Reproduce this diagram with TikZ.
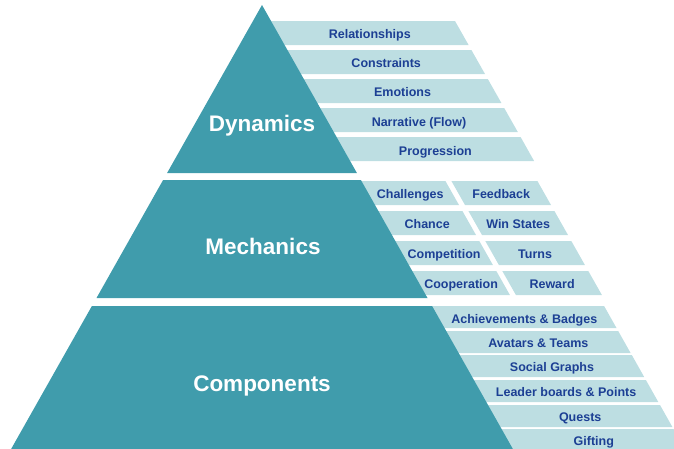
\documentclass[tikz,border=0pt]{standalone}
\usepackage{fontspec}
\setmainfont{Liberation Sans}
\usepackage{tikz}
\usetikzlibrary{positioning}

\definecolor{teal}{HTML}{409CAC}
\definecolor{pale}{HTML}{BDDEE2}
\definecolor{navy}{HTML}{1C3F94}

\begin{document}
\begin{tikzpicture}[x=1pt,y=-1pt,
        layer/.style={fill=teal},
        strip/.style={fill=pale},
        big/.style={text=white, text height=16pt, text depth=0pt, font=\fontsize{22.5}{26}\selectfont\bfseries},
        item/.style={text=navy, text height=9pt, text depth=0pt, font=\fontsize{12.5}{14}\selectfont\bfseries}]
        \clip (0,0) rectangle (674,448);

        %dynamics strips
        \fill[strip] (261.0,21) -- (455.0,21) -- (468.6,45) -- (274.6,45) -- cycle;
        \fill[strip] (277.4,50) -- (471.4,50) -- (485.0,74) -- (291.0,74) -- cycle;
        \fill[strip] (293.8,79) -- (487.8,79) -- (501.4,103) -- (307.4,103) -- cycle;
        \fill[strip] (310.2,108) -- (504.2,108) -- (517.8,132) -- (323.8,132) -- cycle;
        \fill[strip] (326.6,137) -- (520.6,137) -- (534.1,161) -- (340.1,161) -- cycle;

        %mechanics strips, two columns
        \fill[strip] (351.4,181) -- (445.4,181) -- (459.0,205) -- (365.0,205) -- cycle;
        \fill[strip] (451.4,181) -- (537.4,181) -- (551.0,205) -- (465.0,205) -- cycle;
        \fill[strip] (368.4,211) -- (462.4,211) -- (476.0,235) -- (382.0,235) -- cycle;
        \fill[strip] (468.4,211) -- (554.4,211) -- (568.0,235) -- (482.0,235) -- cycle;
        \fill[strip] (385.3,241) -- (479.3,241) -- (492.9,265) -- (398.9,265) -- cycle;
        \fill[strip] (485.3,241) -- (571.3,241) -- (584.9,265) -- (498.9,265) -- cycle;
        \fill[strip] (402.3,271) -- (496.3,271) -- (509.9,295) -- (415.9,295) -- cycle;
        \fill[strip] (502.3,271) -- (588.3,271) -- (601.9,295) -- (515.9,295) -- cycle;

        %components strips
        \fill[strip] (422.1,306) -- (604.1,306) -- (616.5,328) -- (434.5,328) -- cycle;
        \fill[strip] (436.2,331) -- (618.2,331) -- (630.6,353) -- (448.6,353) -- cycle;
        \fill[strip] (449.8,355) -- (631.8,355) -- (644.2,377) -- (462.2,377) -- cycle;
        \fill[strip] (463.9,380) -- (645.9,380) -- (658.3,402) -- (476.3,402) -- cycle;
        \fill[strip] (478.0,405) -- (660.0,405) -- (672.4,427) -- (490.4,427) -- cycle;
        \fill[strip] (491.6,429) -- (673.6,429) -- (686.0,451) -- (504.0,451) -- cycle;

        %pyramid
        \fill[layer] (262,5) -- (356.9,173) -- (167.1,173) -- cycle;
        \fill[layer] (163.1,180) -- (360.9,180) -- (427.5,298) -- (96.5,298) -- cycle;
        \fill[layer] (91.9,306) -- (432.1,306) -- (519.1,460) -- (4.9,460) -- cycle;

        \node[big] (dyn) at (262,123.5) {Dynamics};
        \node[big] (mech) at (263,246) {Mechanics};
        \node[big] (comp) at (262,383.5) {Components};

        %labels
        \node[item] (rel) at (369.8,34) {Relationships};
        \node[item] (con) at (386.2,63) {Constraints};
        \node[item] (emo) at (402.6,92) {Emotions};
        \node[item] (nar) at (419.0,122) {Narrative (Flow)};
        \node[item] (pro) at (435.4,151) {Progression};

        \node[item] (chal) at (410.2,194) {Challenges};
        \node[item] (feed) at (501.2,194) {Feedback};
        \node[item] (chan) at (427.2,224) {Chance};
        \node[item] (win) at (518.2,224) {Win States};
        \node[item] (compe) at (444.1,254) {Competition};
        \node[item] (turn) at (535.1,254) {Turns};
        \node[item] (coop) at (461.1,284) {Cooperation};
        \node[item] (rew) at (552.1,284) {Reward};

        \node[item] (ach) at (524.3,318.5) {Achievements \& Badges};
        \node[item] (ava) at (538.4,343) {Avatars \& Teams};
        \node[item] (soc) at (552.0,367) {Social Graphs};
        \node[item] (lead) at (566.1,392) {Leader boards \& Points};
        \node[item] (que) at (580.2,416.5) {Quests};
        \node[item] (gif) at (593.8,441) {Gifting};
    \end{tikzpicture}
\end{document}
